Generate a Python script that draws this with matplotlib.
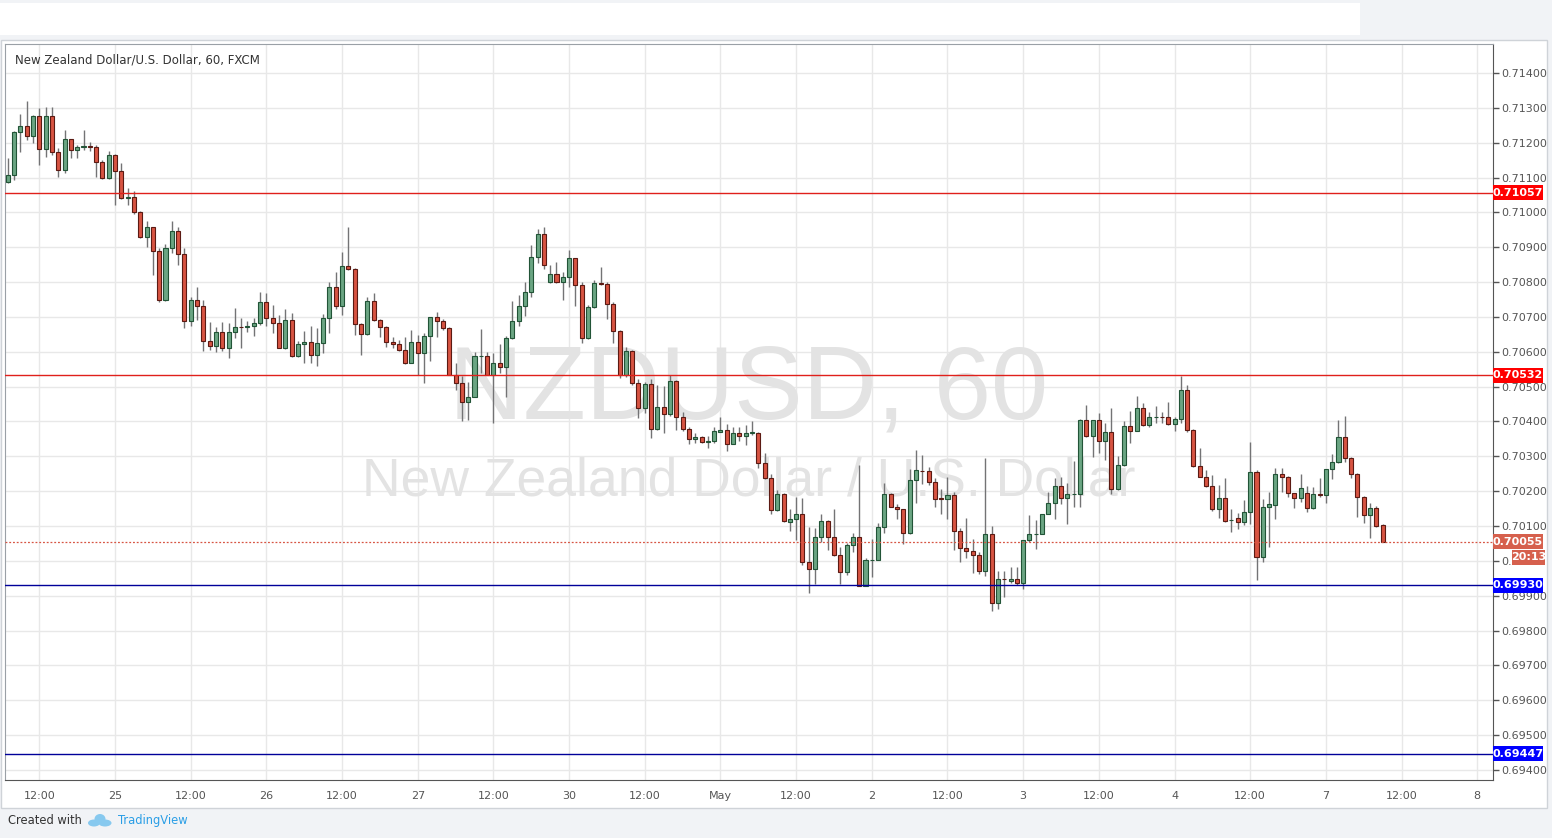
import numpy as np
import matplotlib.pyplot as plt
from matplotlib.patches import Rectangle, Ellipse
from matplotlib.transforms import blended_transform_factory

# ---------- Data: NZDUSD hourly bars, 24 Apr 07:00 .. 7 May 09:00 ----------
opens = [
    0.71087, 0.71108, 0.71230, 0.71248, 0.71218, 0.71278, 0.71182, 0.71278, 0.71173, 0.71122,
    0.71210, 0.71178, 0.71189, 0.71190, 0.71187, 0.71144, 0.71098, 0.71165, 0.71120, 0.71041,
    0.71043, 0.71002, 0.70928, 0.70957, 0.70889, 0.70749, 0.70897, 0.70947, 0.70880, 0.70687,
    0.70748, 0.70730, 0.70632, 0.70618, 0.70656, 0.70610, 0.70656, 0.70672, 0.70672, 0.70673,
    0.70682, 0.70742, 0.70696, 0.70682, 0.70610, 0.70691, 0.70588, 0.70622, 0.70627, 0.70591,
    0.70624, 0.70696, 0.70785, 0.70732, 0.70846, 0.70837, 0.70680, 0.70651, 0.70746, 0.70691,
    0.70672, 0.70627, 0.70622, 0.70605, 0.70567, 0.70627, 0.70596, 0.70646, 0.70701, 0.70687,
    0.70667, 0.70533, 0.70511, 0.70457, 0.70471, 0.70588, 0.70589, 0.70533, 0.70569, 0.70557,
    0.70639, 0.70689, 0.70732, 0.70773, 0.70873, 0.70938, 0.70801, 0.70823, 0.70799, 0.70816,
    0.70868, 0.70792, 0.70639, 0.70728, 0.70797, 0.70795, 0.70737, 0.70660, 0.70533, 0.70603,
    0.70510, 0.70438, 0.70507, 0.70378, 0.70443, 0.70421, 0.70516, 0.70412, 0.70378, 0.70349,
    0.70355, 0.70342, 0.70345, 0.70371, 0.70376, 0.70336, 0.70368, 0.70357, 0.70368, 0.70368,
    0.70280, 0.70237, 0.70146, 0.70192, 0.70112, 0.70119, 0.70136, 0.69998, 0.69976, 0.70069,
    0.70115, 0.70068, 0.70017, 0.69969, 0.70046, 0.70068, 0.69929, 0.70002, 0.70004, 0.70096,
    0.70192, 0.70156, 0.70148, 0.70079, 0.70232, 0.70259, 0.70257, 0.70225, 0.70179, 0.70177,
    0.70190, 0.70086, 0.70038, 0.70029, 0.70018, 0.69971, 0.70076, 0.69880, 0.69949, 0.69942,
    0.69949, 0.69938, 0.70061, 0.70076, 0.70078, 0.70136, 0.70167, 0.70215, 0.70180, 0.70192,
    0.70192, 0.70403, 0.70357, 0.70403, 0.70345, 0.70371, 0.70205, 0.70275, 0.70387, 0.70374,
    0.70438, 0.70390, 0.70412, 0.70414, 0.70412, 0.70393, 0.70406, 0.70491, 0.70376, 0.70272,
    0.70242, 0.70215, 0.70148, 0.70180, 0.70117, 0.70122, 0.70113, 0.70141, 0.70254, 0.70010,
    0.70154, 0.70160, 0.70248, 0.70242, 0.70194, 0.70180, 0.70196, 0.70151, 0.70191, 0.70189,
    0.70263, 0.70285, 0.70355, 0.70295, 0.70250, 0.70183, 0.70132, 0.70151, 0.70103,
]
highs = [
    0.71156, 0.71234, 0.71283, 0.71320, 0.71280, 0.71299, 0.71301, 0.71301, 0.71184, 0.71237,
    0.71210, 0.71194, 0.71237, 0.71203, 0.71194, 0.71150, 0.71177, 0.71167, 0.71141, 0.71069,
    0.71060, 0.71005, 0.70974, 0.70957, 0.70897, 0.70909, 0.70974, 0.70957, 0.70897, 0.70758,
    0.70787, 0.70749, 0.70685, 0.70670, 0.70685, 0.70682, 0.70725, 0.70696, 0.70688, 0.70696,
    0.70771, 0.70768, 0.70734, 0.70706, 0.70722, 0.70712, 0.70632, 0.70661, 0.70674, 0.70667,
    0.70708, 0.70801, 0.70830, 0.70885, 0.70957, 0.70840, 0.70682, 0.70758, 0.70770, 0.70693,
    0.70674, 0.70642, 0.70634, 0.70642, 0.70663, 0.70648, 0.70653, 0.70701, 0.70715, 0.70693,
    0.70670, 0.70567, 0.70531, 0.70514, 0.70598, 0.70665, 0.70600, 0.70596, 0.70622, 0.70644,
    0.70746, 0.70763, 0.70801, 0.70907, 0.70952, 0.70959, 0.70849, 0.70859, 0.70830, 0.70892,
    0.70870, 0.70799, 0.70734, 0.70806, 0.70844, 0.70799, 0.70744, 0.70662, 0.70615, 0.70605,
    0.70521, 0.70514, 0.70521, 0.70505, 0.70502, 0.70534, 0.70518, 0.70428, 0.70383, 0.70366,
    0.70357, 0.70357, 0.70385, 0.70412, 0.70393, 0.70385, 0.70385, 0.70390, 0.70400, 0.70370,
    0.70309, 0.70249, 0.70203, 0.70196, 0.70148, 0.70182, 0.70180, 0.70096, 0.70093, 0.70136,
    0.70117, 0.70148, 0.70041, 0.70050, 0.70079, 0.70275, 0.70007, 0.70062, 0.70110, 0.70223,
    0.70196, 0.70163, 0.70150, 0.70263, 0.70318, 0.70305, 0.70270, 0.70238, 0.70205, 0.70241,
    0.70198, 0.70095, 0.70123, 0.70062, 0.70026, 0.70294, 0.70100, 0.69970, 0.69970, 0.69983,
    0.69983, 0.70061, 0.70131, 0.70117, 0.70136, 0.70198, 0.70237, 0.70240, 0.70223, 0.70288,
    0.70406, 0.70448, 0.70405, 0.70424, 0.70397, 0.70438, 0.70301, 0.70400, 0.70431, 0.70473,
    0.70452, 0.70428, 0.70445, 0.70428, 0.70457, 0.70414, 0.70531, 0.70505, 0.70378, 0.70323,
    0.70261, 0.70247, 0.70218, 0.70237, 0.70148, 0.70138, 0.70175, 0.70342, 0.70261, 0.70177,
    0.70199, 0.70266, 0.70266, 0.70244, 0.70196, 0.70249, 0.70215, 0.70211, 0.70237, 0.70263,
    0.70307, 0.70403, 0.70416, 0.70297, 0.70253, 0.70185, 0.70167, 0.70158, 0.70105,
]
lows = [
    0.71084, 0.71093, 0.71173, 0.71208, 0.71199, 0.71136, 0.71158, 0.71165, 0.71103, 0.71112,
    0.71155, 0.71155, 0.71179, 0.71175, 0.71103, 0.71096, 0.71096, 0.71020, 0.71039, 0.71022,
    0.70995, 0.70926, 0.70900, 0.70821, 0.70742, 0.70747, 0.70883, 0.70849, 0.70669, 0.70674,
    0.70691, 0.70602, 0.70605, 0.70600, 0.70602, 0.70581, 0.70639, 0.70610, 0.70657, 0.70646,
    0.70677, 0.70675, 0.70653, 0.70610, 0.70607, 0.70586, 0.70586, 0.70569, 0.70569, 0.70559,
    0.70596, 0.70653, 0.70722, 0.70706, 0.70835, 0.70648, 0.70591, 0.70649, 0.70689, 0.70642,
    0.70615, 0.70610, 0.70603, 0.70565, 0.70567, 0.70533, 0.70511, 0.70575, 0.70642, 0.70663,
    0.70533, 0.70489, 0.70400, 0.70404, 0.70470, 0.70538, 0.70533, 0.70395, 0.70538, 0.70471,
    0.70637, 0.70674, 0.70703, 0.70758, 0.70856, 0.70837, 0.70797, 0.70797, 0.70749, 0.70787,
    0.70730, 0.70626, 0.70637, 0.70726, 0.70792, 0.70693, 0.70626, 0.70524, 0.70529, 0.70505,
    0.70409, 0.70423, 0.70352, 0.70376, 0.70366, 0.70416, 0.70376, 0.70374, 0.70336, 0.70339,
    0.70339, 0.70323, 0.70339, 0.70369, 0.70314, 0.70334, 0.70345, 0.70333, 0.70361, 0.70266,
    0.70235, 0.70135, 0.70144, 0.70112, 0.70087, 0.70060, 0.69988, 0.69907, 0.69934, 0.70055,
    0.70031, 0.70015, 0.69934, 0.69959, 0.70026, 0.69927, 0.69927, 0.69955, 0.70002, 0.70079,
    0.70154, 0.70119, 0.70048, 0.70077, 0.70167, 0.70222, 0.70219, 0.70155, 0.70136, 0.70120,
    0.70031, 0.69997, 0.70009, 0.69966, 0.69962, 0.69957, 0.69855, 0.69861, 0.69897, 0.69938,
    0.69930, 0.69919, 0.70054, 0.70035, 0.70076, 0.70134, 0.70119, 0.70163, 0.70106, 0.70154,
    0.70156, 0.70355, 0.70297, 0.70309, 0.70290, 0.70192, 0.70203, 0.70273, 0.70339, 0.70372,
    0.70388, 0.70383, 0.70395, 0.70395, 0.70391, 0.70374, 0.70395, 0.70371, 0.70270, 0.70240,
    0.70211, 0.70144, 0.70122, 0.70113, 0.70084, 0.70091, 0.70103, 0.70106, 0.69945, 0.69998,
    0.70041, 0.70119, 0.70199, 0.70182, 0.70151, 0.70170, 0.70141, 0.70149, 0.70183, 0.70165,
    0.70234, 0.70280, 0.70285, 0.70237, 0.70125, 0.70108, 0.70065, 0.70098, 0.70053,
]
closes = [
    0.71108, 0.71230, 0.71248, 0.71218, 0.71278, 0.71182, 0.71278, 0.71173, 0.71122, 0.71210,
    0.71178, 0.71189, 0.71190, 0.71187, 0.71144, 0.71098, 0.71165, 0.71120, 0.71041, 0.71043,
    0.71002, 0.70928, 0.70957, 0.70889, 0.70749, 0.70897, 0.70947, 0.70880, 0.70687, 0.70748,
    0.70730, 0.70632, 0.70618, 0.70656, 0.70610, 0.70656, 0.70672, 0.70671, 0.70673, 0.70682,
    0.70742, 0.70696, 0.70682, 0.70610, 0.70691, 0.70588, 0.70622, 0.70627, 0.70591, 0.70624,
    0.70696, 0.70785, 0.70732, 0.70846, 0.70837, 0.70680, 0.70651, 0.70746, 0.70691, 0.70672,
    0.70627, 0.70622, 0.70605, 0.70567, 0.70627, 0.70596, 0.70646, 0.70701, 0.70687, 0.70667,
    0.70533, 0.70511, 0.70457, 0.70471, 0.70588, 0.70589, 0.70533, 0.70569, 0.70557, 0.70639,
    0.70689, 0.70732, 0.70773, 0.70873, 0.70938, 0.70849, 0.70823, 0.70799, 0.70816, 0.70868,
    0.70792, 0.70639, 0.70728, 0.70797, 0.70795, 0.70737, 0.70660, 0.70533, 0.70603, 0.70510,
    0.70438, 0.70507, 0.70378, 0.70443, 0.70421, 0.70516, 0.70412, 0.70378, 0.70349, 0.70355,
    0.70342, 0.70345, 0.70373, 0.70376, 0.70336, 0.70368, 0.70357, 0.70368, 0.70369, 0.70280,
    0.70237, 0.70146, 0.70192, 0.70115, 0.70119, 0.70136, 0.69998, 0.69976, 0.70069, 0.70115,
    0.70068, 0.70017, 0.69969, 0.70046, 0.70068, 0.69929, 0.70002, 0.70004, 0.70096, 0.70192,
    0.70156, 0.70148, 0.70079, 0.70232, 0.70261, 0.70258, 0.70225, 0.70179, 0.70178, 0.70190,
    0.70086, 0.70038, 0.70029, 0.70018, 0.69971, 0.70076, 0.69880, 0.69949, 0.69947, 0.69949,
    0.69938, 0.70061, 0.70076, 0.70078, 0.70136, 0.70167, 0.70215, 0.70180, 0.70192, 0.70193,
    0.70403, 0.70357, 0.70403, 0.70345, 0.70371, 0.70205, 0.70275, 0.70387, 0.70374, 0.70438,
    0.70390, 0.70412, 0.70414, 0.70413, 0.70393, 0.70406, 0.70491, 0.70376, 0.70272, 0.70242,
    0.70215, 0.70148, 0.70180, 0.70115, 0.70118, 0.70113, 0.70141, 0.70254, 0.70010, 0.70154,
    0.70162, 0.70248, 0.70242, 0.70194, 0.70180, 0.70208, 0.70151, 0.70191, 0.70189, 0.70263,
    0.70285, 0.70355, 0.70295, 0.70250, 0.70183, 0.70132, 0.70151, 0.70100, 0.70055,
]

# time axis labels (every 12 bars, first at bar 5 = 24 Apr 12:00)
time_labels = ["12:00", "25", "12:00", "26", "12:00", "27", "12:00", "30", "12:00", "May",
               "12:00", "2", "12:00", "3", "12:00", "4", "12:00", "7", "12:00", "8"]
price_ticks = [0.694, 0.695, 0.696, 0.697, 0.698, 0.699, 0.700, 0.701, 0.702, 0.703, 0.704,
               0.705, 0.706, 0.707, 0.708, 0.709, 0.710, 0.711, 0.712, 0.713, 0.714]
resistance = [0.71057, 0.70532]
support = [0.69930, 0.69447]
last_price = 0.70055
countdown = "20:13"

# ---------- Styling ----------
UP, UP_EDGE = "#6ba583", "#225437"
DN, DN_EDGE = "#d75442", "#5b1a13"
WICK = "#737375"
GRID = "#e8e8e8"
RED, BLUE = "#ff0000", "#0000ff"
RED_LINE, BLUE_LINE = "#e0201b", "#000099"

o = np.array(opens); h = np.array(highs); l = np.array(lows); c = np.array(closes)
x = np.arange(len(c))
up = c >= o

W, H = 1552, 838
fig = plt.figure(figsize=(W / 100, H / 100), dpi=100)
fig.patch.set_facecolor("#f1f3f6")

def px(x0, y0, w, hh):
    """rectangle in figure fraction from pixel box (top-left origin)"""
    return (x0 / W, 1 - (y0 + hh) / H, w / W, hh / H)

# top white strip and chart panel (behind the axes)
fig.patches.append(Rectangle(px(0, 3, 1360, 32)[:2], 1360 / W, 32 / H,
                             transform=fig.transFigure, fc="white", ec="none", zorder=-5))
fig.patches.append(Rectangle(px(1, 40, 1546, 768)[:2], 1546 / W, 768 / H,
                             transform=fig.transFigure, fc="white", ec="#cfd3d8", lw=1,
                             zorder=-5))

ax = fig.add_axes(px(5, 44, 1488, 736))
ax.set_facecolor("white")

# grid
for k in range(len(time_labels)):
    ax.axvline(5 + 12 * k, color=GRID, lw=1, zorder=0)
for p in price_ticks:
    ax.axhline(p, color=GRID, lw=1, zorder=0)

# watermark
ax.text(0.5, 0.527, "NZDUSD, 60", transform=ax.transAxes, ha="center", va="center",
        fontsize=74, color="#e3e3e3", family="Liberation Sans", zorder=1)
ax.text(0.5, 0.405, "New Zealand Dollar / U.S. Dollar", transform=ax.transAxes,
        ha="center", va="center", fontsize=38.5, color="#e3e3e3",
        family="Liberation Sans", zorder=1)

# candles
ax.vlines(x, l, h, color=WICK, lw=1, zorder=2)
body_lo = np.minimum(o, c)
body_h = np.maximum(np.abs(c - o), 0.000012)
ax.bar(x[up], body_h[up], bottom=body_lo[up], width=0.64, color=UP,
       edgecolor=UP_EDGE, linewidth=0.8, zorder=3)
ax.bar(x[~up], body_h[~up], bottom=body_lo[~up], width=0.64, color=DN,
       edgecolor=DN_EDGE, linewidth=0.8, zorder=3)

# level lines
for p in resistance:
    ax.axhline(p, color=RED_LINE, lw=1, zorder=4)
for p in support:
    ax.axhline(p, color=BLUE_LINE, lw=1, zorder=4)
ax.axhline(last_price, color=DN, lw=0.9, ls=(0, (1.5, 1.5)), zorder=4)

ax.set_xlim(-0.45, 235.5)
ax.set_ylim(0.693713, 0.714832)

ax.set_xticks([5 + 12 * k for k in range(len(time_labels))])
ax.set_xticklabels(time_labels, fontsize=8, color="#555555")
ax.tick_params(axis="x", length=0, pad=8)
ax.yaxis.tick_right()
ax.set_yticks(price_ticks)
# the 0.70000 label is mostly hidden behind the countdown tag
ylabels = [f"{p:.5f}" for p in price_ticks]
ylabels[price_ticks.index(0.700)] = "0."
ax.set_yticklabels(ylabels, fontsize=8, color="#555555")
ax.tick_params(axis="y", length=4, width=1, color="#555555", pad=2)
for s in ax.spines.values():
    s.set_color("#9aa0a6")
ax.spines["right"].set_color("#555555")
ax.spines["bottom"].set_color("#555555")

ax.text(0.0067, 0.978, "New Zealand Dollar/U.S. Dollar, 60, FXCM", transform=ax.transAxes,
        ha="left", va="center", fontsize=8.5, color="#333333", zorder=6)

# price labels on the right scale
tr = blended_transform_factory(ax.transAxes, ax.transData)
box_w = 50 / 1488
box_h = 15 / 34.85 * 0.001

def price_tag(price, text, fc, dx=0.0, w=box_w):
    ax.add_patch(Rectangle((1.0 + dx, price - box_h / 2), w, box_h, transform=tr,
                           fc=fc, ec="none", clip_on=False, zorder=7))
    ax.text(1.0 + dx + w / 2, price, text, transform=tr, ha="center", va="center",
            fontsize=8, color="white", fontweight="bold", clip_on=False, zorder=8)

for p in resistance:
    price_tag(p, f"{p:.5f}", RED)
for p in support:
    price_tag(p, f"{p:.5f}", BLUE)
price_tag(last_price, f"{last_price:.5f}", "#d6604d")
price_tag(last_price - box_h * 1.05, countdown, "#d6604d", dx=19 / 1488, w=33 / 1488)

# footer
fig.text(8 / W, 1 - 820 / H, "Created with", ha="left", va="center", fontsize=8.3,
         color="#333333")
for (cx, cy, ew, eh) in [(94, 823, 12, 7), (100, 819, 11, 10), (105, 823, 13, 7)]:
    fig.patches.append(Ellipse((cx / W, 1 - cy / H), ew / W, eh / H,
                               transform=fig.transFigure, fc="#87c9ef", ec="none"))
fig.text(118 / W, 1 - 820 / H, "TradingView", ha="left", va="center", fontsize=8.3,
         color="#2a9ee6")

fig.savefig("out.png", dpi=100, facecolor=fig.get_facecolor())
